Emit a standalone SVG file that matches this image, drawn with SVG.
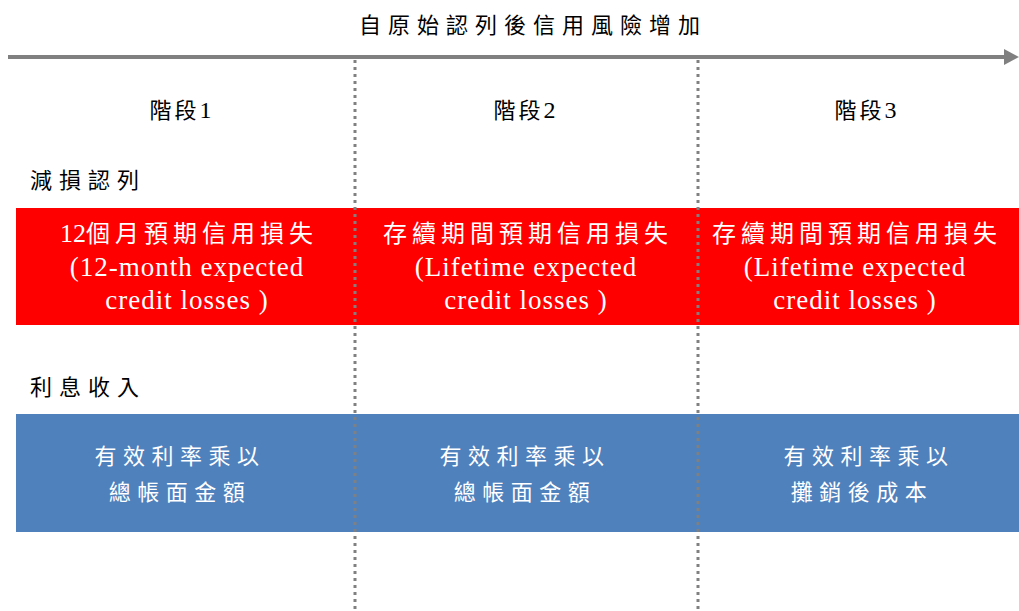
<svg xmlns="http://www.w3.org/2000/svg" width="1019" height="611" viewBox="0 0 1019 611">
<style>
.t{font-family:"Liberation Serif","Noto Sans CJK TC",serif;fill:#000;}
.w{font-family:"Liberation Serif","Noto Sans CJK TC",serif;fill:#fff;text-anchor:middle;}
.zh{font-size:24px;letter-spacing:5px;}
.en{font-size:27px;letter-spacing:1px;}
.bl{font-size:22px;letter-spacing:6.5px;}
.hd{font-size:22px;letter-spacing:3px;text-anchor:middle;}
.lb{font-size:22px;letter-spacing:7px;}
.div{stroke:#808080;stroke-width:3;stroke-dasharray:3 4;fill:none;}
</style>
<rect width="1019" height="611" fill="#fff"/>
<g id="title"><text class="t lb" x="533" y="33" text-anchor="middle">自原始認列後信用風險增加</text></g>
<g id="stage1"><text class="t hd" x="182" y="118">階段<tspan font-size="24">1</tspan></text></g>
<g id="stage2"><text class="t hd" x="526" y="118">階段<tspan font-size="24">2</tspan></text></g>
<g id="stage3"><text class="t hd" x="867" y="118">階段<tspan font-size="24">3</tspan></text></g>
<g id="label-impairment"><text class="t lb" x="30" y="188">減損認列</text></g>
<g id="label-interest"><text class="t lb" x="30" y="395">利息收入</text></g>
<g id="red-row">
<rect x="16" y="208" width="1003" height="117" fill="#ff0000"/>
</g>
<g id="ecl1">
<text class="w zh" x="189" y="242"><tspan font-size="26" letter-spacing="0">12</tspan>個月預期信用損失</text>
<text class="w en" x="187" y="276">(12-month expected</text>
<text class="w en" x="187" y="309">credit losses )</text>
</g>
<g id="ecl2">
<text class="w zh" x="528" y="242">存續期間預期信用損失</text>
<text class="w en" x="526" y="276">(Lifetime expected</text>
<text class="w en" x="526" y="309">credit losses )</text>
</g>
<g id="ecl3">
<text class="w zh" x="857" y="242">存續期間預期信用損失</text>
<text class="w en" x="855" y="276">(Lifetime expected</text>
<text class="w en" x="855" y="309">credit losses )</text>
</g>
<g id="blue-row">
<rect x="16" y="414" width="1003" height="118" fill="#4f81bd"/>
</g>
<g id="int1">
<text class="w bl" x="180" y="464">有效利率乘以</text>
<text class="w bl" x="180" y="500">總帳面金額</text>
</g>
<g id="int2">
<text class="w bl" x="525" y="464">有效利率乘以</text>
<text class="w bl" x="525" y="500">總帳面金額</text>
</g>
<g id="int3">
<text class="w bl" x="869" y="464">有效利率乘以</text>
<text class="w bl" x="862" y="500">攤銷後成本</text>
</g>
<g id="connectors">
<line x1="8" y1="57" x2="1006" y2="57" stroke="#808080" stroke-width="4"/>
<polygon points="1004,49 1019,57 1004,65" fill="#808080"/>
<line class="div" x1="355" y1="60" x2="355" y2="611"/>
<line class="div" x1="698" y1="60" x2="698" y2="611"/>
</g>
</svg>
